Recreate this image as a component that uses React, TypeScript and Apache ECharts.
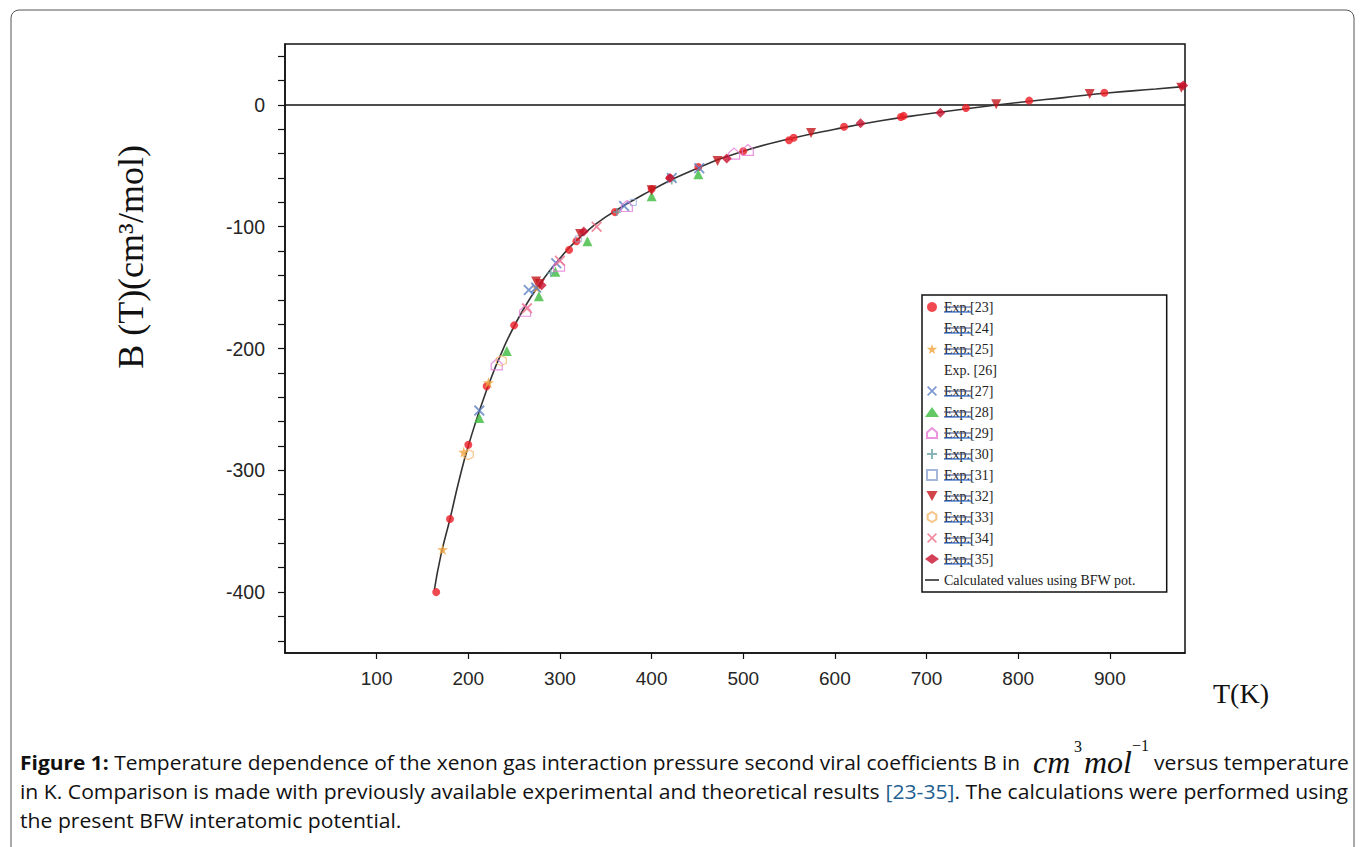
import React, { useEffect, useRef } from "react";
import * as echarts from "echarts";

// ---- data ----
const curveT = [163, 170, 180, 190, 200, 220, 240, 260, 280, 300, 320, 350, 400, 450, 500, 550, 600, 650, 700, 750, 800, 850, 900, 950, 980];
const curveB = [-398, -370, -340, -308, -280, -234, -197, -168, -145, -126, -110, -92, -70, -52, -38, -28, -20, -13, -7.5, -2.5, 2, 6, 10, 13, 15];

const exp23 = [[165, -400], [180, -340], [200, -279], [220, -231], [250, -181], [310, -119], [318, -112], [360, -88], [400, -69], [420, -60], [451, -51], [500, -38], [550, -29], [555, -27], [610, -18], [672, -10], [675, -9], [743, -2.5], [812, 3.5], [894, 10]];
const exp24: number[][] = [];
const exp25 = [[172, -365], [195, -285], [222, -228], [275, -150]];
const exp26: number[][] = [];
const exp27 = [[212, -251], [266, -152], [274, -150], [296, -130], [370, -83], [422, -60], [452, -52]];
const exp28 = [[212, -257], [242, -202], [277, -157], [295, -137], [330, -112], [400, -75], [451, -57]];
const exp29 = [[231, -213], [262, -169], [299, -132], [373, -83], [490, -40], [505, -37]];
const exp30 = [[290, -138], [362, -88], [422, -62]];
const exp31 = [[320, -110], [380, -80]];
const exp32 = [[274, -145], [278, -147], [322, -106], [400, -70], [472, -46], [574, -23], [776, 0.5], [878, 9], [978, 14]];
const exp33 = [[200, -287], [236, -210]];
const exp34 = [[264, -167], [300, -128], [340, -100]];
const exp35 = [[280, -148], [326, -104], [420, -60], [482, -44], [628, -15], [715, -6.5], [980, 16]];

const xTicks = [100, 200, 300, 400, 500, 600, 700, 800, 900];
const yLabels = [0, -100, -200, -300, -400];
const yTicks = [40, 20, 0, -20, -40, -60, -80, -100, -120, -140, -160, -180, -200, -220, -240, -260, -280, -300, -320, -340, -360, -380, -400, -420, -440];

const legendNames = ["Exp.[23]", "Exp.[24]", "Exp.[25]", "Exp. [26]", "Exp.[27]", "Exp.[28]", "Exp.[29]", "Exp.[30]", "Exp.[31]", "Exp.[32]", "Exp.[33]", "Exp.[34]", "Exp.[35]", "Calculated values using BFW pot."];

// ---- symbol shapes ----
const STAR = "path://M50,0L61,35L98,35L68,57L79,91L50,70L21,91L32,57L2,35L39,35Z";
const XSHAPE = "path://M0,1.2L1.2,0L5,3.8L8.8,0L10,1.2L6.2,5L10,8.8L8.8,10L5,6.2L1.2,10L0,8.8L3.8,5Z";
const TRI_DOWN = "path://M0,0L10,0L5,9Z";
const HOUSE = "path://M5,0L10,4.5L10,10L0,10L0,4.5Z";
const HEX = "path://M5,0L9.3,2.5L9.3,7.5L5,10L0.7,7.5L0.7,2.5Z";
const PLUS = "path://M4,0L6,0L6,4L10,4L10,6L6,6L6,10L4,10L4,6L0,6L0,4L4,4Z";
const SQUARE = "path://M0,0L10,0L10,10L0,10Z";
const LINE_ICON = "path://M0,0L16,0L16,1.6L0,1.6Z";

const CLEAR = "rgba(255,255,255,0)";

export default function App() {
  const ref = useRef<HTMLDivElement>(null);

  useEffect(() => {
    if (!ref.current) return;
    const chart = echarts.init(ref.current, undefined, { renderer: "svg" });

    const scatter = (name: string, data: number[][], symbol: string, size: number, itemStyle: any) => ({
      name,
      type: "scatter",
      data,
      symbol,
      symbolSize: size,
      itemStyle,
      emphasis: { disabled: true },
      z: 3,
    });

    const legendTop = 295;
    const rowPitch = 21;
    const strikeRows = [0, 1, 2, 4, 5, 6, 7, 8, 9, 10, 11, 12];
    const decor: any[] = [];
    strikeRows.forEach((i) => {
      const cy = legendTop + 12 + rowPitch * i;
      decor.push({ type: "line", shape: { x1: 944, y1: cy, x2: 971, y2: cy }, style: { stroke: "#3a4a7a", lineWidth: 1 } });
      decor.push({ type: "line", shape: { x1: 944, y1: cy + 5, x2: 972, y2: cy + 5 }, style: { stroke: "#2b62c0", lineWidth: 1.2 } });
    });

    const capFont = '"Open Sans", "Noto Sans", sans-serif';
    const capSize = 20;
    const capScale = 1.058;

    chart.setOption({
      animation: false,
      backgroundColor: "#ffffff",
      grid: {
        left: 285,
        top: 44,
        right: 177,
        bottom: 194,
        show: true,
        borderColor: "#111",
        borderWidth: 1.5,
        backgroundColor: "transparent",
      },
      xAxis: {
        type: "value",
        min: 0,
        max: 982,
        axisLine: { show: true, onZero: false, lineStyle: { color: "#111", width: 1.5 } },
        axisTick: { show: true, inside: false, length: 6, customValues: xTicks, lineStyle: { color: "#111", width: 1.2 } },
        axisLabel: { customValues: xTicks, margin: 16, fontFamily: '"Liberation Sans", Arial, sans-serif', fontSize: 19, color: "#262626" },
        splitLine: { show: false },
      },
      yAxis: {
        type: "value",
        min: -450,
        max: 50,
        axisLine: { show: true, onZero: false, lineStyle: { color: "#111", width: 1.5 } },
        axisTick: { show: true, inside: false, length: 7, customValues: yTicks, lineStyle: { color: "#111", width: 1.2 } },
        axisLabel: { customValues: yLabels, margin: 20, fontFamily: '"Liberation Sans", Arial, sans-serif', fontSize: 19.5, color: "#262626" },
        splitLine: { show: false },
      },
      legend: {
        orient: "vertical",
        left: 922,
        top: legendTop,
        data: legendNames.map((n, i) =>
          i === 13 ? { name: n, icon: LINE_ICON, itemStyle: { color: "#111" } } : { name: n }
        ),
        selectedMode: false,
        itemWidth: 14,
        itemHeight: 10,
        itemGap: 7,
        padding: [5, 31, 5, 3],
        backgroundColor: "#ffffff",
        borderColor: "#111",
        borderWidth: 1.5,
        textStyle: { fontFamily: '"Liberation Serif", "Times New Roman", serif', fontSize: 14, color: "#222" },
      },
      series: [
        {
          name: "zero",
          type: "line",
          data: [[0, 0], [982, 0]],
          symbol: "none",
          lineStyle: { color: "#111", width: 1.5 },
          silent: true,
          z: 1,
        },
        scatter(legendNames[0], exp23, "circle", 8, { color: "#ee1c24" }),
        scatter(legendNames[1], exp24, "none", 8, { color: CLEAR }),
        scatter(legendNames[2], exp25, STAR, 11, { color: "#f0a33a" }),
        scatter(legendNames[3], exp26, "none", 8, { color: CLEAR }),
        scatter(legendNames[4], exp27, XSHAPE, 11, { color: "#5c7fc4" }),
        scatter(legendNames[5], exp28, "triangle", 10, { color: "#3dbb3d" }),
        scatter(legendNames[6], exp29, HOUSE, 11, { color: CLEAR, borderColor: "#e47ad8", borderWidth: 1.2 }),
        scatter(legendNames[7], exp30, PLUS, 8, { color: "#6aa3a8" }),
        scatter(legendNames[8], exp31, SQUARE, 6, { color: CLEAR, borderColor: "#8ea4d4", borderWidth: 1 }),
        scatter(legendNames[9], exp32, TRI_DOWN, 10, { color: "#c4161c" }),
        scatter(legendNames[10], exp33, HEX, 10, { color: CLEAR, borderColor: "#f5b56a", borderWidth: 1.2 }),
        scatter(legendNames[11], exp34, XSHAPE, 11, { color: "#ef6f8a" }),
        scatter(legendNames[12], exp35, "diamond", 10, { color: "#c8102e" }),
        {
          name: legendNames[13],
          type: "line",
          data: curveT.map((t, i) => [t, curveB[i]]),
          smooth: true,
          symbol: "none",
          itemStyle: { color: "#111" },
          lineStyle: { color: "#333", width: 1.6 },
          z: 2,
        },
      ],
      graphic: [
        {
          type: "rect",
          shape: { x: 11, y: 10, width: 1343, height: 860, r: 8 },
          style: { fill: "none", stroke: "#555", lineWidth: 1 },
          silent: true,
          z: -10,
        },
        {
          type: "text",
          x: 131,
          y: 257,
          rotation: Math.PI / 2,
          style: {
            text: "B (T)(cm³/mol)",
            font: '36px "Liberation Serif", "Times New Roman", serif',
            fill: "#111",
            textAlign: "center",
            textVerticalAlign: "middle",
          },
        },
        {
          type: "text",
          x: 1241,
          y: 693,
          style: {
            text: "T(K)",
            font: '28px "Liberation Serif", "Times New Roman", serif',
            fill: "#111",
            textAlign: "center",
            textVerticalAlign: "middle",
          },
        },
        ...decor.map((d) => ({ ...d, z: 100, silent: true })),
        {
          type: "text",
          x: 20,
          y: 762,
          scaleX: 1.047,
          style: {
            text: "{b|Figure 1:} Temperature dependence of the xenon gas interaction pressure second viral coefficients B in",
            font: `${capSize}px ${capFont}`,
            fill: "#111",
            textVerticalAlign: "middle",
            rich: { b: { fontWeight: "bold", fontSize: capSize, fontFamily: capFont } },
          },
        },
        {
          type: "text",
          x: 1033,
          y: 762,
          style: { text: "cm", font: 'italic 32px "Liberation Serif", serif', fill: "#111", textVerticalAlign: "middle" },
        },
        {
          type: "text",
          x: 1074,
          y: 746,
          style: { text: "3", font: '16px "Liberation Serif", serif', fill: "#111", textVerticalAlign: "middle" },
        },
        {
          type: "text",
          x: 1084,
          y: 762,
          style: { text: "mol", font: 'italic 32px "Liberation Serif", serif', fill: "#111", textVerticalAlign: "middle" },
        },
        {
          type: "text",
          x: 1132,
          y: 745,
          style: { text: "−1", font: '16px "Liberation Serif", serif', fill: "#111", textVerticalAlign: "middle" },
        },
        {
          type: "text",
          x: 1349,
          y: 762,
          scaleX: capScale,
          style: { text: "versus temperature", font: `${capSize}px ${capFont}`, fill: "#111", textAlign: "right", textVerticalAlign: "middle" },
        },
        {
          type: "text",
          x: 20,
          y: 791,
          scaleX: capScale,
          style: {
            text: "in K. Comparison is made with previously available experimental and theoretical results {l|[23-35]}. The calculations were performed using",
            font: `${capSize}px ${capFont}`,
            fill: "#111",
            textVerticalAlign: "middle",
            rich: { l: { fill: "#23608f", color: "#23608f", fontSize: capSize, fontFamily: capFont } },
          },
        },
        {
          type: "text",
          x: 20,
          y: 820,
          scaleX: capScale,
          style: { text: "the present BFW interatomic potential.", font: `${capSize}px ${capFont}`, fill: "#111", textVerticalAlign: "middle" },
        },
      ],
    });

    return () => chart.dispose();
  }, []);

  return (
    <div
      ref={ref}
      style={{ position: "fixed", left: 0, top: 0, width: 1362, height: 847, background: "#fff" }}
    />
  );
}
